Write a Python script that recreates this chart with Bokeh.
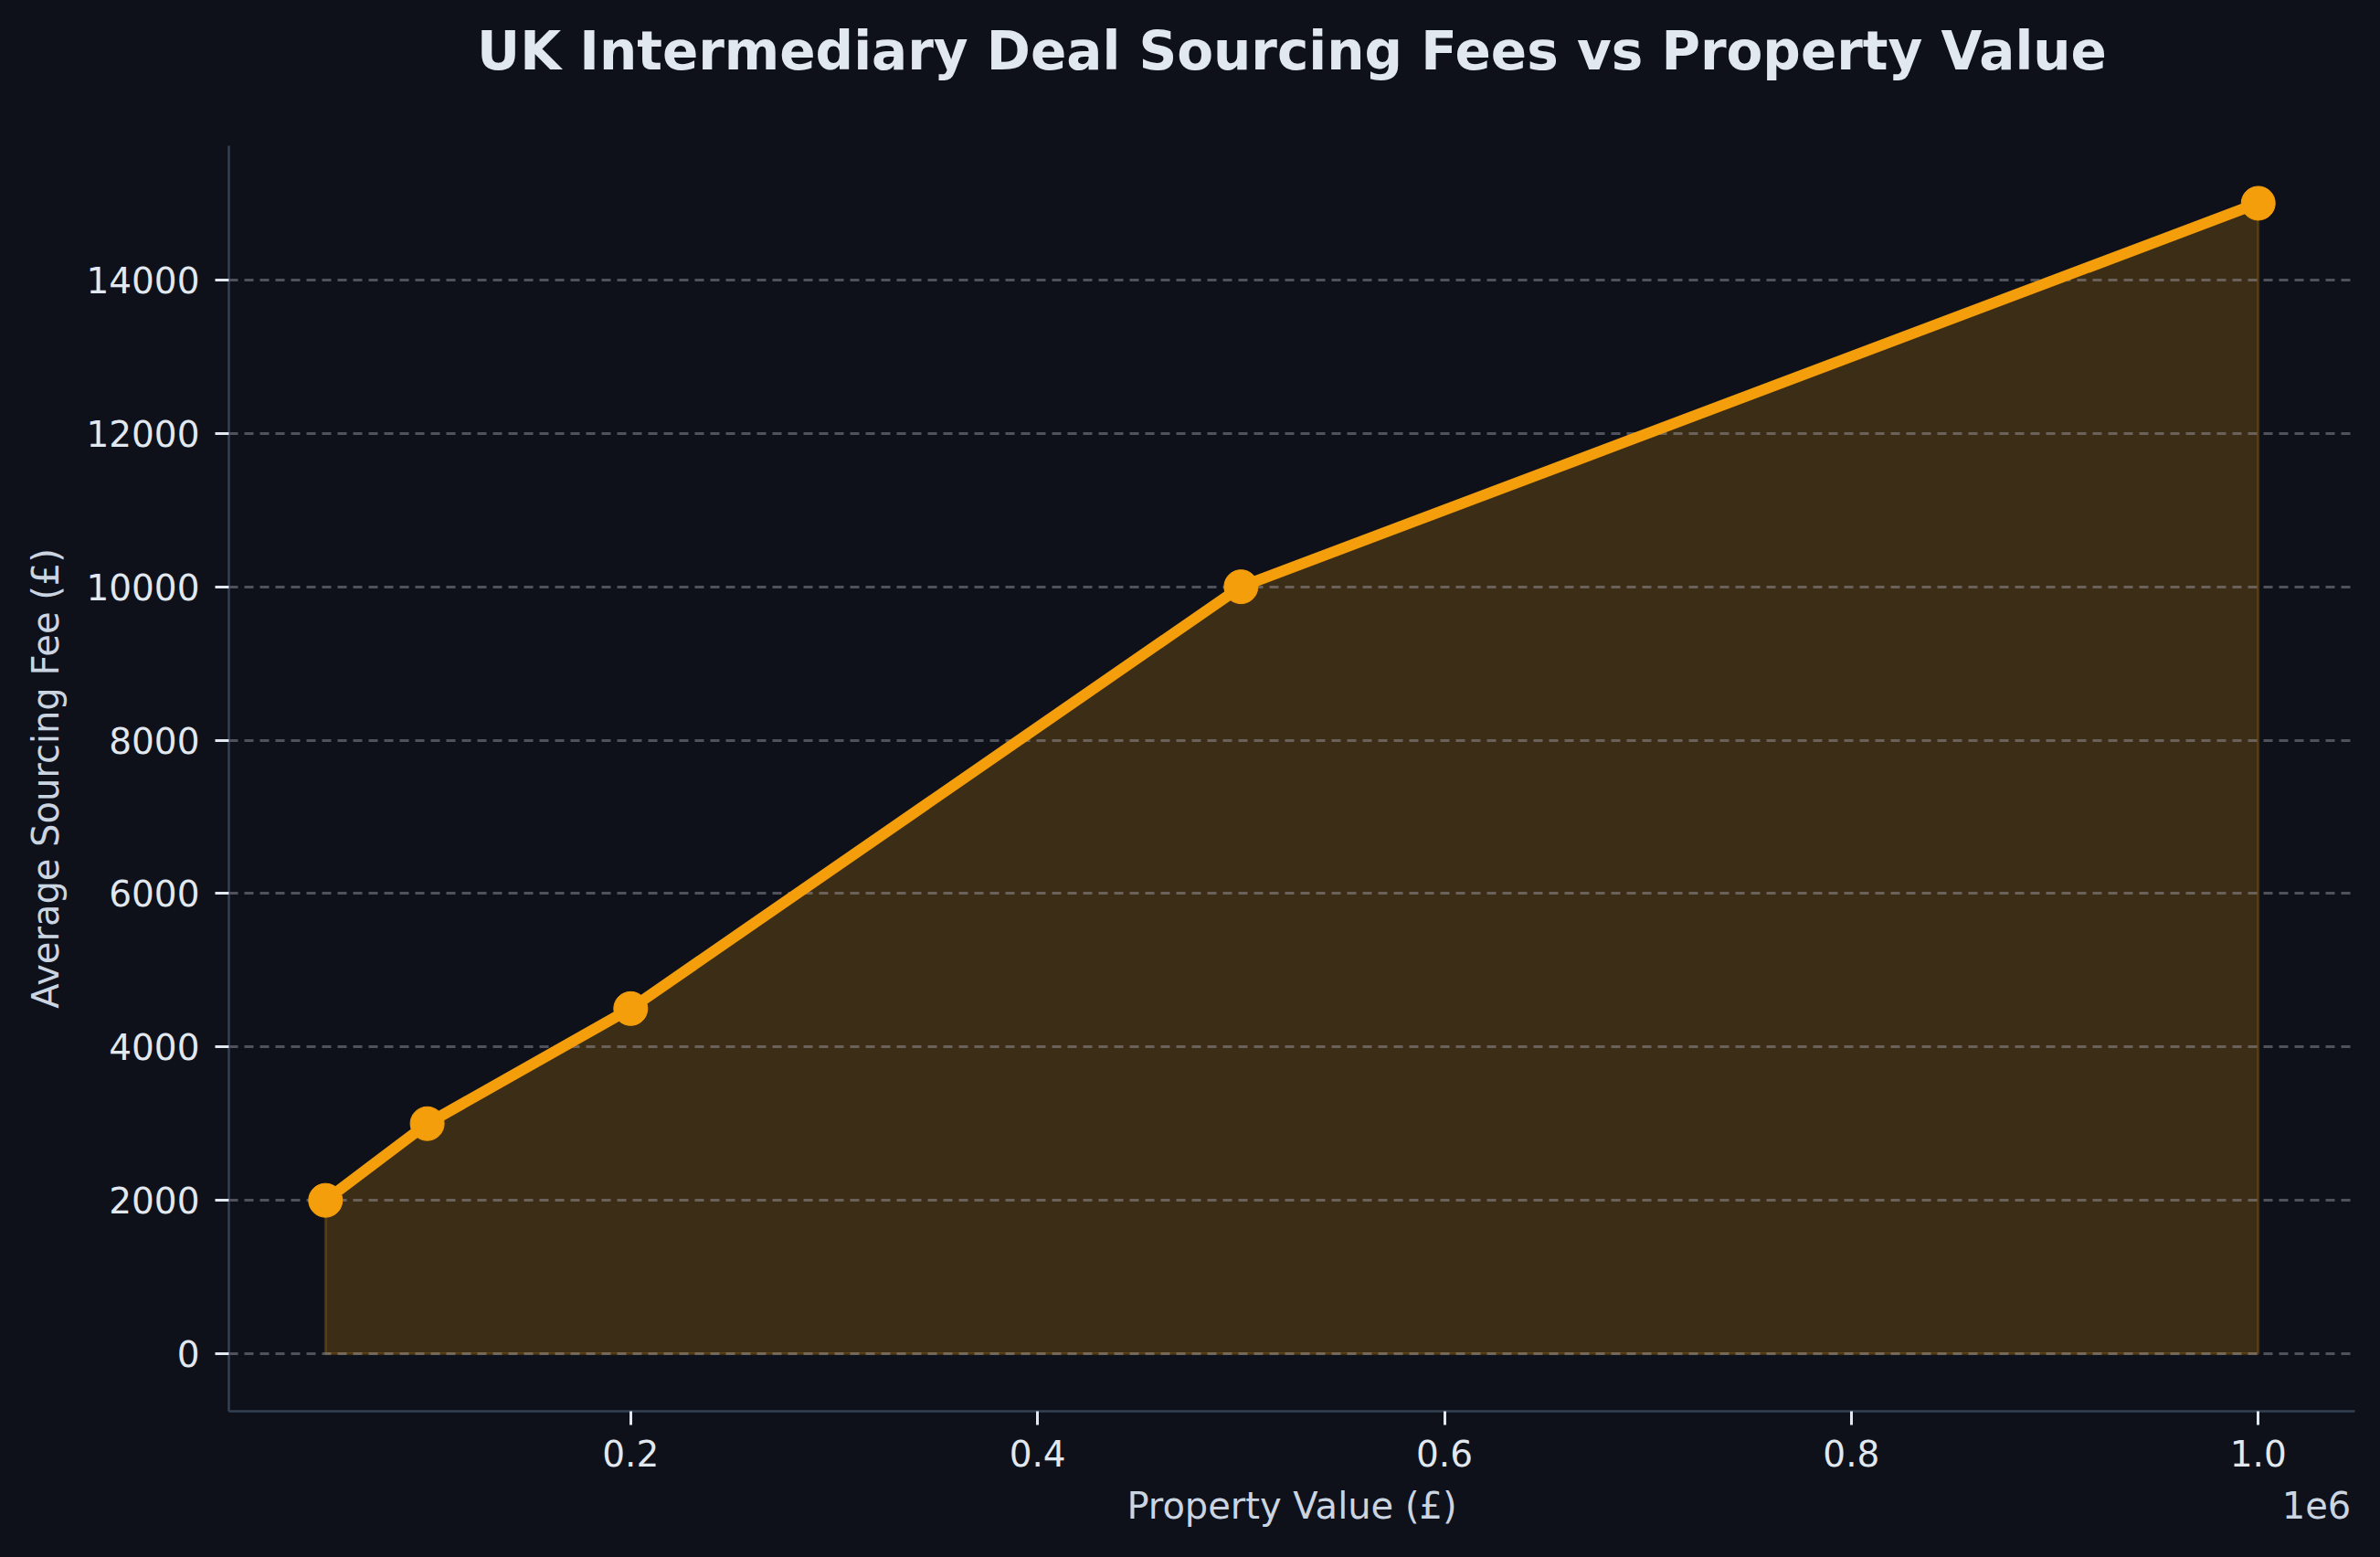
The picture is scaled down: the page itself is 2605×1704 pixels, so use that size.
from bokeh.plotting import figure
from bokeh.models import (Range1d, FixedTicker, CustomJSTickFormatter, ColumnDataSource,
                          LinearAxis, Title)
from bokeh.embed import file_html
from bokeh.resources import INLINE

# Data
property_values = [50000, 100000, 200000, 500000, 1000000]
sourcing_fees = [2000, 3000, 4500, 10000, 15000]
x_ticks = [200000, 400000, 600000, 800000, 1000000]
y_ticks = [0, 2000, 4000, 6000, 8000, 10000, 12000, 14000]

title_text = "UK Intermediary Deal Sourcing Fees vs Property Value"
x_label = "Property Value (£)"
y_label = "Average Sourcing Fee (£)"
offset_text = "1e6"

BG = "#0e111a"
ORANGE = "#f59e0b"
TEXT = "#e2e8f0"
LABEL = "#cbd5e1"
SPINE = "#334155"
FONT = "DejaVu Sans"

FRAME_W = 2327

# auto-limits like matplotlib (5% margins)
xmin, xmax = min(property_values), max(property_values)
ymin, ymax = 0, max(sourcing_fees)
xpad = 0.05 * (xmax - xmin)
ypad = 0.05 * (ymax - ymin)
x_range = Range1d(xmin - xpad, xmax + xpad)
y_range = Range1d(ymin - ypad, ymax + ypad)

p = figure(width=2605, height=1704, output_backend="svg", toolbar_location=None,
           x_range=x_range, y_range=y_range,
           min_border_left=250, min_border_right=28,
           min_border_top=0, min_border_bottom=160)

p.background_fill_color = BG
p.border_fill_color = None   # page background supplies it (avoids seams)
p.outline_line_color = None

# spacer between title and frame (closest to the frame)
p.add_layout(Title(text=" ", text_font_size="2px", standoff=46, text_color=BG), "above")

# title (outermost)
p.title.text = title_text
p.title.text_font = FONT
p.title.text_font_size = "58px"
p.title.text_font_style = "bold"
p.title.text_color = TEXT
p.title.align = "center"
p.title.standoff = 39

# area fill (under grid)
poly_x = property_values + property_values[::-1]
poly_y = sourcing_fees + [0] * len(sourcing_fees)
area = p.patch(poly_x, poly_y, fill_color=ORANGE, fill_alpha=0.2,
               line_color=ORANGE, line_alpha=0.2, line_width=3)
area.level = "image"

src = ColumnDataSource(dict(x=property_values, y=sourcing_fees))
p.line("x", "y", source=src, line_color=ORANGE, line_width=12)
p.scatter("x", "y", source=src, size=37, fill_color=ORANGE, line_color=ORANGE)

# axes
for ax in (p.xaxis[0], p.yaxis[0]):
    ax.axis_line_color = SPINE
    ax.axis_line_width = 2.5
    ax.major_tick_line_color = TEXT
    ax.major_tick_line_width = 3
    ax.major_tick_out = 15
    ax.major_tick_in = 0
    ax.minor_tick_line_color = None
    ax.major_label_text_font = FONT
    ax.major_label_text_font_size = "39px"
    ax.major_label_text_color = TEXT
    ax.axis_label_text_font = FONT
    ax.axis_label_text_font_size = "40px"
    ax.axis_label_text_font_style = "normal"
    ax.axis_label_text_color = LABEL

p.xaxis.ticker = FixedTicker(ticks=x_ticks)
p.xaxis.formatter = CustomJSTickFormatter(code="return (tick/1e6).toFixed(1);")
p.xaxis.major_label_standoff = 16

p.yaxis.ticker = FixedTicker(ticks=y_ticks)
p.yaxis.axis_label = y_label
p.yaxis.major_label_standoff = 17
p.yaxis.axis_label_standoff = 18

# second row under the x axis: axis title (centred) and the offset text "1e6" (right)
span = x_range.end - x_range.start
label_row_ticks = [(x_range.start + x_range.end) / 2,
                   x_range.start + (2535 - 250) / FRAME_W * span]
label_row_texts = [x_label, offset_text]
row = LinearAxis(ticker=FixedTicker(ticks=label_row_ticks),
                 formatter=CustomJSTickFormatter(
                     args=dict(texts=label_row_texts),
                     code="return texts[index];"),
                 axis_line_color=None, major_tick_line_color=None,
                 minor_tick_line_color=None, major_tick_out=0, major_tick_in=0,
                 major_label_standoff=17,
                 major_label_text_font=FONT, major_label_text_font_size="40px",
                 major_label_text_color=LABEL)
p.add_layout(row, "below")

# grid
p.xgrid.visible = False
p.ygrid.ticker = FixedTicker(ticks=y_ticks)
p.ygrid.grid_line_color = "#a1a1aa"
p.ygrid.grid_line_alpha = 0.45
p.ygrid.grid_line_width = 3
p.ygrid.grid_line_dash = "10 7"

html = file_html(p, INLINE)
style = "<style>html, body { margin: 0; padding: 0; background: %s !important; }</style>" % BG
if "</head>" in html:
    html = html.replace("</head>", style + "</head>", 1)
else:
    html = style + html
open("out.html", "w").write(html)
